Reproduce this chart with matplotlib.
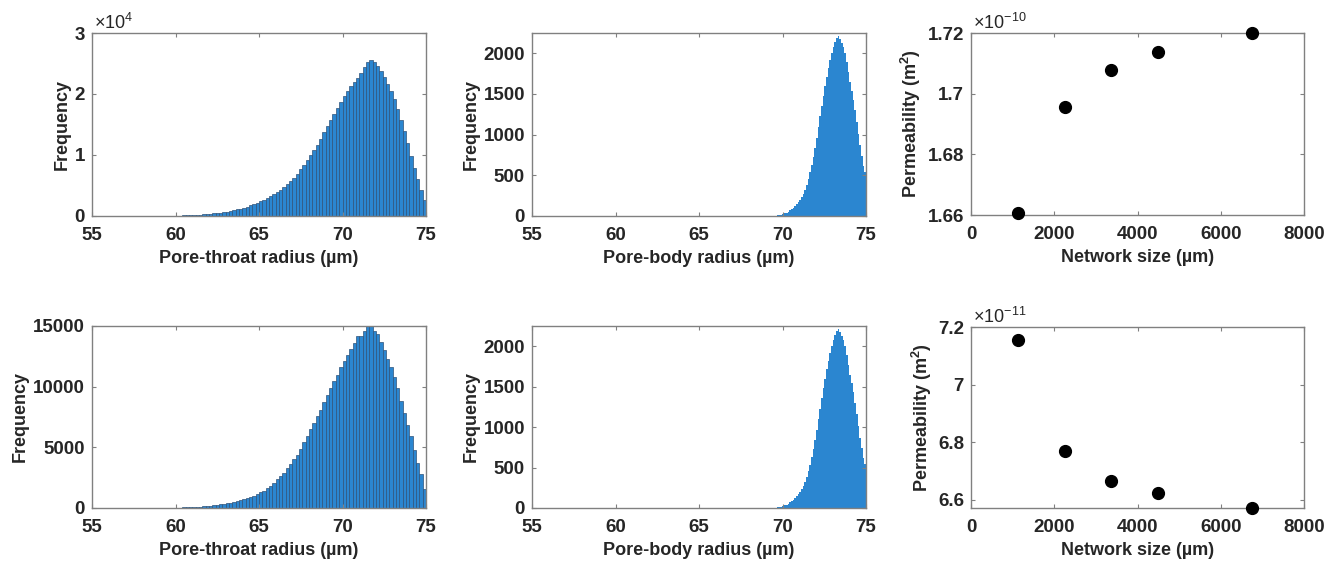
import numpy as np
import matplotlib
matplotlib.use("Agg")
import matplotlib.pyplot as plt
from matplotlib.ticker import FuncFormatter

plt.rcParams['font.family'] = ['Liberation Sans', 'DejaVu Sans']
plt.rcParams['mathtext.fontset'] = 'custom'
plt.rcParams['mathtext.rm'] = 'Liberation Sans'
plt.rcParams['mathtext.bf'] = 'Liberation Sans:bold'
plt.rcParams['mathtext.it'] = 'Liberation Sans:italic'

# --- pore-throat radius histograms (bin width 0.2 um, 59 -> 75 um)
throat_edges = np.arange(59.0, 75.001, 0.2)
throat_top = [10, 14, 20, 28, 38, 50, 65, 82, 102, 125,
              152, 183, 218, 258, 303, 355, 413, 478, 552, 635,
              727, 830, 945, 1072, 1212, 1367, 1537, 1723, 1927, 2150,
              2390, 2650, 2930, 3230, 3560, 3920, 4310, 4730, 5180, 5670,
              6300, 6950, 7650, 8400, 9200, 10000, 10850, 11700, 12600, 13700,
              14700, 15700, 16700, 17700, 18700, 19600, 20450, 21250, 22000, 22700,
              23400, 24500, 25300, 25550, 25300, 24600, 23800, 22800, 21700, 20500,
              19100, 17500, 15800, 13900, 11900, 9900, 7900, 6000, 4200, 2600]
throat_bot = [5, 8, 12, 17, 23, 30, 38, 48, 58, 70,
              84, 100, 118, 138, 160, 185, 215, 250, 290, 335,
              385, 440, 500, 570, 650, 730, 820, 920, 1030, 1150,
              1280, 1420, 1650, 1850, 2100, 2350, 2620, 2900, 3300, 3650,
              4000, 4400, 4850, 5400, 5950, 6500, 7000, 7550, 8100, 8700,
              9300, 9900, 10450, 11000, 11600, 12100, 12600, 13100, 13600, 14200,
              14200, 14600, 15000, 15000, 14600, 14300, 13700, 13000, 12300, 11600,
              10800, 9900, 8800, 7800, 6800, 5900, 4800, 3700, 2800, 1600]

# --- pore-body radius histogram (bin width 0.1 um, 69.5 -> 75 um), same in both rows
body_edges = np.arange(69.5, 75.001, 0.1)
body_counts = [3, 5, 8, 12, 17, 24, 32, 42, 54, 68,
               84, 102, 122, 145, 170, 200, 235, 275, 325, 385,
               455, 535, 625, 725, 840, 965, 1095, 1225, 1355, 1480,
               1600, 1715, 1820, 1915, 2000, 2075, 2140, 2190, 2210, 2180,
               2130, 2080, 2000, 1890, 1770, 1650, 1540, 1430, 1300, 1160,
               1010, 870, 740, 620, 540]

# --- permeability vs network size
network_size = [1125, 2250, 3375, 4500, 6750]
perm_top = [1.6606, 1.6955, 1.7078, 1.7138, 1.7200]   # x 1e-10 m^2
perm_bot = [7.154, 6.768, 6.664, 6.622, 6.571]        # x 1e-11 m^2

bar_color = '#2b86d0'
edge_color = '#2f5279'
axis_color = '#808080'
text_color = '#262626'
tick_fs = 13.5
label_fs = 13

fig = plt.figure(figsize=(13.38, 5.68), dpi=100)
W, H = 1338.0, 568.0


def make_ax(l, r, t, b):
    return fig.add_axes([l / W, 1 - b / H, (r - l) / W, (b - t) / H])


def style(ax):
    for s in ax.spines.values():
        s.set_color(axis_color)
        s.set_linewidth(1.0)
    ax.tick_params(direction='in', top=True, right=True, length=3, width=0.8,
                   color=axis_color, labelsize=tick_fs, labelcolor=text_color)
    ax.tick_params(axis='x', pad=8)
    ax.tick_params(axis='y', pad=5)
    for lab in ax.get_xticklabels() + ax.get_yticklabels():
        lab.set_fontweight('bold')
    ax.xaxis.labelpad = 4
    ax.yaxis.labelpad = 3


fmt_g = FuncFormatter(lambda v, p: '%g' % round(v, 6))


def throat_hist(ax, counts, ymax, yticks, scale=None):
    ax.hist(throat_edges[:-1], bins=throat_edges, weights=counts,
            color=bar_color, edgecolor=edge_color, linewidth=0.5)
    ax.set_xlim(55, 75)
    ax.set_ylim(0, ymax)
    ax.set_xticks([55, 60, 65, 70, 75])
    ax.set_yticks(yticks)
    if scale:
        ax.yaxis.set_major_formatter(FuncFormatter(lambda v, p: '%g' % (v / scale)))
    ax.set_xlabel('Pore-throat radius (µm)', fontsize=label_fs, fontweight='bold', color=text_color)
    ax.set_ylabel('Frequency', fontsize=label_fs, fontweight='bold', color=text_color)
    style(ax)


def body_hist(ax):
    ax.hist(body_edges[:-1], bins=body_edges, weights=body_counts,
            color=bar_color, edgecolor='none')
    ax.set_xlim(55, 75)
    ax.set_ylim(0, 2250)
    ax.set_xticks([55, 60, 65, 70, 75])
    ax.set_yticks([0, 500, 1000, 1500, 2000])
    ax.set_xlabel('Pore-body radius (µm)', fontsize=label_fs, fontweight='bold', color=text_color)
    ax.set_ylabel('Frequency', fontsize=label_fs, fontweight='bold', color=text_color)
    style(ax)


def perm_plot(ax, perm, ylim, yticks, expo):
    ax.plot(network_size, perm, 'o', color='black', markersize=8.5, clip_on=False, zorder=5)
    ax.set_xlim(0, 8000)
    ax.set_ylim(*ylim)
    ax.set_xticks([0, 2000, 4000, 6000, 8000])
    ax.set_yticks(yticks)
    ax.yaxis.set_major_formatter(fmt_g)
    ax.set_xlabel('Network size (µm)', fontsize=label_fs, fontweight='bold', color=text_color)
    ax.set_ylabel('Permeability (m$^\\mathbf{2}$)', fontsize=label_fs, fontweight='bold', color=text_color)
    ax.text(0.005, 1.0, r'$\times10^{%s}$' % expo, transform=ax.transAxes,
            ha='left', va='bottom', fontsize=13, color=text_color)
    style(ax)


ax1 = make_ax(92, 426, 33, 216)
throat_hist(ax1, throat_top, 30000, [0, 10000, 20000, 30000], scale=1e4)
ax1.text(0.005, 1.0, r'$\times10^{4}$', transform=ax1.transAxes,
         ha='left', va='bottom', fontsize=13, color=text_color)

ax2 = make_ax(532, 866, 33, 216)
body_hist(ax2)

ax3 = make_ax(971, 1304, 33, 215)
perm_plot(ax3, perm_top, (1.66, 1.72), [1.66, 1.68, 1.70, 1.72], '-10')

ax4 = make_ax(92, 426, 326, 508)
throat_hist(ax4, throat_bot, 15000, [0, 5000, 10000, 15000])

ax5 = make_ax(532, 866, 326, 508)
body_hist(ax5)

ax6 = make_ax(971, 1304, 327, 508)
perm_plot(ax6, perm_bot, (6.571, 7.2), [6.6, 6.8, 7.0, 7.2], '-11')

fig.savefig('out.png', dpi=100)
